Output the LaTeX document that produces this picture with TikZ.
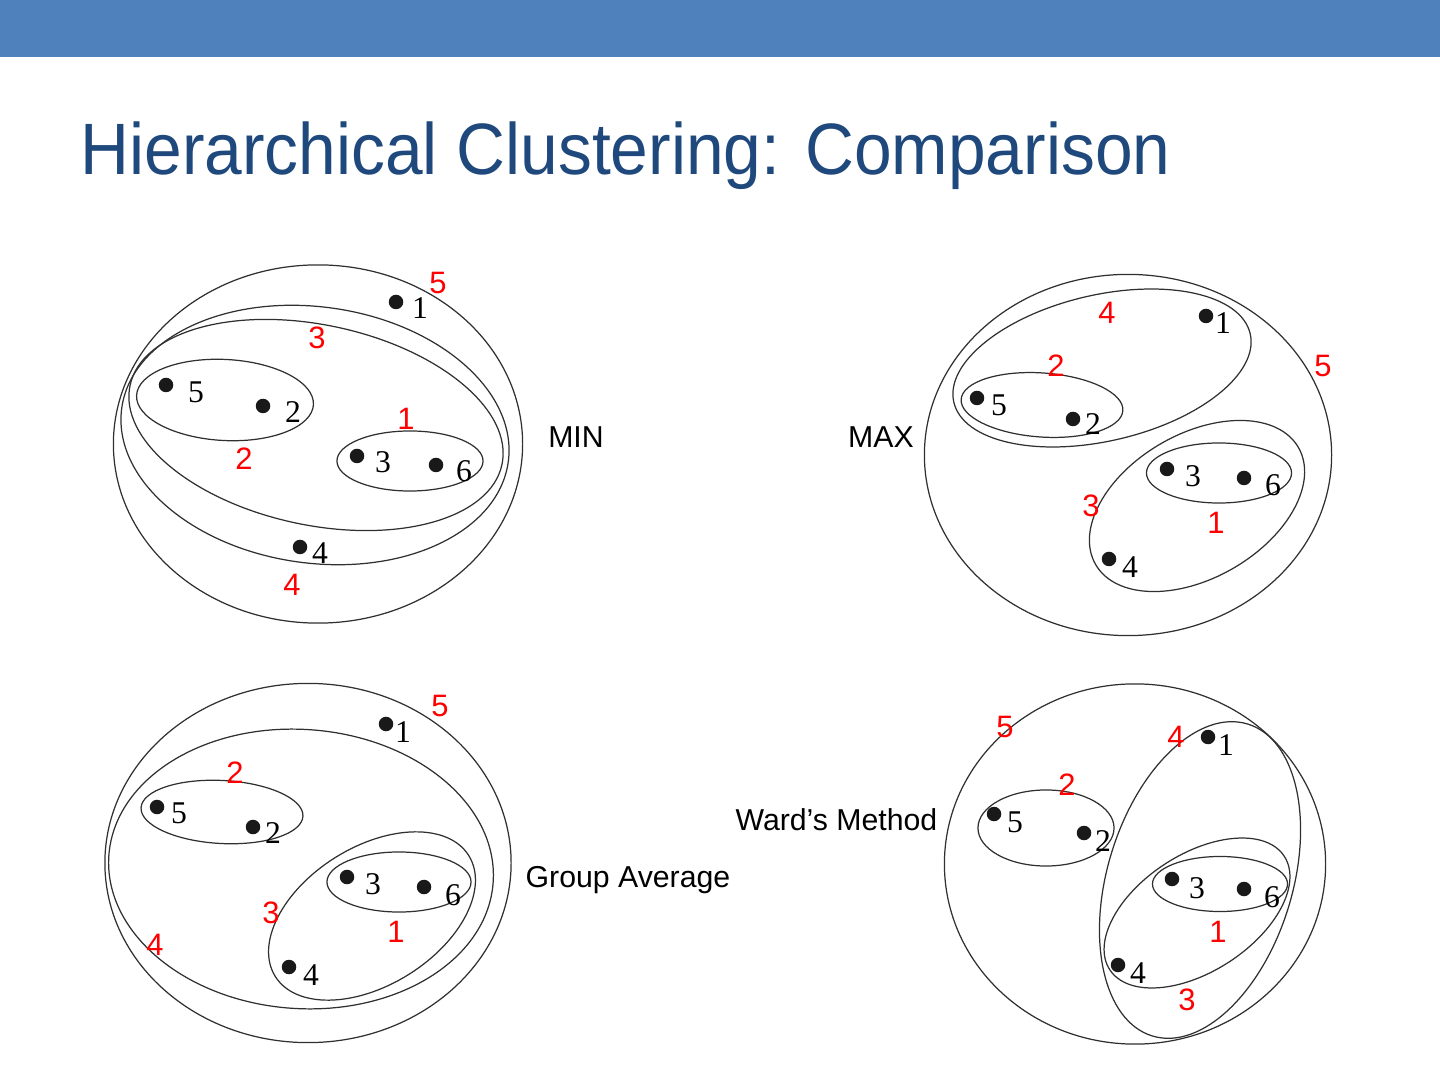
\documentclass[tikz,border=0pt]{standalone}
\usepackage{fontspec}
\setmainfont{Liberation Sans}
\newfontfamily\digitfont{Liberation Serif}
\newfontfamily\titlefont[FakeStretch=0.93]{Liberation Sans}
\usetikzlibrary{shapes.geometric}
\definecolor{barblue}{HTML}{4F81BD}
\definecolor{titleblue}{HTML}{1F497D}
\definecolor{mergered}{HTML}{FF0000}
\definecolor{lineblack}{HTML}{303030}
\tikzset{
  clus/.style={
    ellipse, draw=lineblack, line width=0.35pt,
    inner sep=0pt, fill=none,
  },
  dot/.style={
    circle, fill=black!90, inner sep=0pt, minimum size=0.145cm,
  },
  ptlbl/.style={font=\digitfont\fontsize{9}{10}\selectfont, inner sep=0pt},
  mlbl/.style={font=\fontsize{8.8}{10}\selectfont, text=mergered, inner sep=0pt},
  meth/.style={font=\fontsize{8.6}{10}\selectfont, inner sep=0pt},
}

\begin{document}
\begin{tikzpicture}[x=0.01cm, y=-0.01cm]
\useasboundingbox (0,0) rectangle (1440,1080);

% ── header bar and title ──────────────────────────────────────────────
\fill[barblue] (0,0) rectangle (1440,57);
\node[anchor=base west, inner sep=0pt, text=titleblue,
      font=\titlefont\fontsize{20.7}{24}\selectfont] (title) at (80,175)
      {Hierarchical Clustering: Comparison};

% ── MIN (top left) ────────────────────────────────────────────────────
\node[clus, minimum width=4.09cm, minimum height=3.58cm] (min-c5) at (318,444) {};
\node[clus, minimum width=3.90cm, minimum height=2.56cm, rotate=-8]  (min-c4) at (315,435) {};
\node[clus, minimum width=3.80cm, minimum height=2.00cm, rotate=-12] (min-c3) at (316,425) {};
\node[clus, minimum width=1.77cm, minimum height=0.81cm, rotate=-3]  (min-c2) at (225,400) {};
\node[clus, minimum width=1.46cm, minimum height=0.60cm] (min-c1) at (410,461) {};

\node[dot] (min-p1) at (396,302) {};
\node[dot] (min-p5) at (166,385) {};
\node[dot] (min-p2) at (263,406) {};
\node[dot] (min-p3) at (357,456) {};
\node[dot] (min-p6) at (436,465) {};
\node[dot] (min-p4) at (300,547) {};
\node[ptlbl] (min-l1) at (420,308) {1};
\node[ptlbl] (min-l5) at (196,392) {5};
\node[ptlbl] (min-l2) at (293,412) {2};
\node[ptlbl] (min-l3) at (383,462) {3};
\node[ptlbl] (min-l6) at (464,471) {6};
\node[ptlbl] (min-l4) at (320,553) {4};

\node[mlbl] (min-m5) at (438,283) {5};
\node[mlbl] (min-m3) at (317,338) {3};
\node[mlbl] (min-m1) at (406,419) {1};
\node[mlbl] (min-m2) at (244,459) {2};
\node[mlbl] (min-m4) at (292,585) {4};
\node[meth] (min-name) at (576,437) {MIN};

% ── MAX (top right) ───────────────────────────────────────────────────
\node[clus, minimum width=4.07cm, minimum height=3.61cm] (max-c5) at (1128,455) {};
\node[clus, minimum width=3.04cm, minimum height=1.46cm, rotate=13] (max-c4) at (1102,368) {};
\node[clus, minimum width=1.62cm, minimum height=0.64cm, rotate=-4] (max-c2) at (1042,405) {};
\node[clus, minimum width=2.34cm, minimum height=1.44cm, rotate=30] (max-c3) at (1197,506) {};
\node[clus, minimum width=1.45cm, minimum height=0.60cm] (max-c1) at (1219,473) {};

\node[dot] (max-p1) at (1206,316) {};
\node[dot] (max-p5) at (977,398) {};
\node[dot] (max-p2) at (1073,419) {};
\node[dot] (max-p3) at (1167,469) {};
\node[dot] (max-p6) at (1244,478) {};
\node[dot] (max-p4) at (1109,559) {};
\node[ptlbl] (max-l1) at (1223,323) {1};
\node[ptlbl] (max-l5) at (999,405) {5};
\node[ptlbl] (max-l2) at (1093,424) {2};
\node[ptlbl] (max-l3) at (1193,476) {3};
\node[ptlbl] (max-l6) at (1273,485) {6};
\node[ptlbl] (max-l4) at (1130,567) {4};

\node[mlbl] (max-m4) at (1107,313) {4};
\node[mlbl] (max-m2) at (1056,366) {2};
\node[mlbl] (max-m5) at (1323,366) {5};
\node[mlbl] (max-m3) at (1091,506) {3};
\node[mlbl] (max-m1) at (1216,523) {1};
\node[meth] (max-name) at (881,437) {MAX};

% ── Group Average (bottom left) ───────────────────────────────────────
\node[clus, minimum width=4.06cm, minimum height=3.59cm] (avg-c5) at (308,863) {};
\node[clus, minimum width=3.85cm, minimum height=2.79cm, rotate=-4] (avg-c4) at (301,869) {};
\node[clus, minimum width=1.62cm, minimum height=0.63cm, rotate=-3] (avg-c2) at (222,812) {};
\node[clus, minimum width=2.28cm, minimum height=1.38cm, rotate=32] (avg-c3) at (372,916) {};
\node[clus, minimum width=1.44cm, minimum height=0.60cm] (avg-c1) at (399,882) {};

\node[dot] (avg-p1) at (386,724) {};
\node[dot] (avg-p5) at (157,807) {};
\node[dot] (avg-p2) at (253,827) {};
\node[dot] (avg-p3) at (347,877) {};
\node[dot] (avg-p6) at (424,887) {};
\node[dot] (avg-p4) at (289,967) {};
\node[ptlbl] (avg-l1) at (403,732) {1};
\node[ptlbl] (avg-l5) at (179,813) {5};
\node[ptlbl] (avg-l2) at (273,833) {2};
\node[ptlbl] (avg-l3) at (373,884) {3};
\node[ptlbl] (avg-l6) at (453,895) {6};
\node[ptlbl] (avg-l4) at (311,975) {4};

\node[mlbl] (avg-m5) at (440,706) {5};
\node[mlbl] (avg-m2) at (235,773) {2};
\node[mlbl] (avg-m3) at (271,913) {3};
\node[mlbl] (avg-m1) at (396,932) {1};
\node[mlbl] (avg-m4) at (155,945) {4};
\node[meth, anchor=west] (avg-name) at (525,880) {Group Average};

% ── Ward's Method (bottom right) ──────────────────────────────────────
\node[clus, minimum width=3.81cm, minimum height=3.60cm] (ward-c5) at (1135,864) {};
\node[clus, minimum width=1.85cm, minimum height=3.26cm, rotate=-17] (ward-c4) at (1200,880) {};
\node[clus, minimum width=2.08cm, minimum height=1.17cm, rotate=33]  (ward-c3) at (1197,913) {};
\node[clus, minimum width=1.36cm, minimum height=0.76cm] (ward-c2) at (1046,828) {};
\node[clus, minimum width=1.35cm, minimum height=0.55cm] (ward-c1) at (1220,884) {};

\node[dot] (ward-p1) at (1208,737) {};
\node[dot] (ward-p5) at (994,814) {};
\node[dot] (ward-p2) at (1084,833) {};
\node[dot] (ward-p3) at (1172,879) {};
\node[dot] (ward-p6) at (1244,889) {};
\node[dot] (ward-p4) at (1118,965) {};
\node[ptlbl] (ward-l1) at (1226,745) {1};
\node[ptlbl] (ward-l5) at (1015,822) {5};
\node[ptlbl] (ward-l2) at (1103,841) {2};
\node[ptlbl] (ward-l3) at (1197,888) {3};
\node[ptlbl] (ward-l6) at (1272,897) {6};
\node[ptlbl] (ward-l4) at (1138,973) {4};

\node[mlbl] (ward-m5) at (1005,727) {5};
\node[mlbl] (ward-m4) at (1176,737) {4};
\node[mlbl] (ward-m2) at (1067,785) {2};
\node[mlbl] (ward-m1) at (1218,932) {1};
\node[mlbl] (ward-m3) at (1187,1000) {3};
\node[meth, anchor=east] (ward-name) at (938,820) {Ward’s Method};

\end{tikzpicture}
\end{document}
